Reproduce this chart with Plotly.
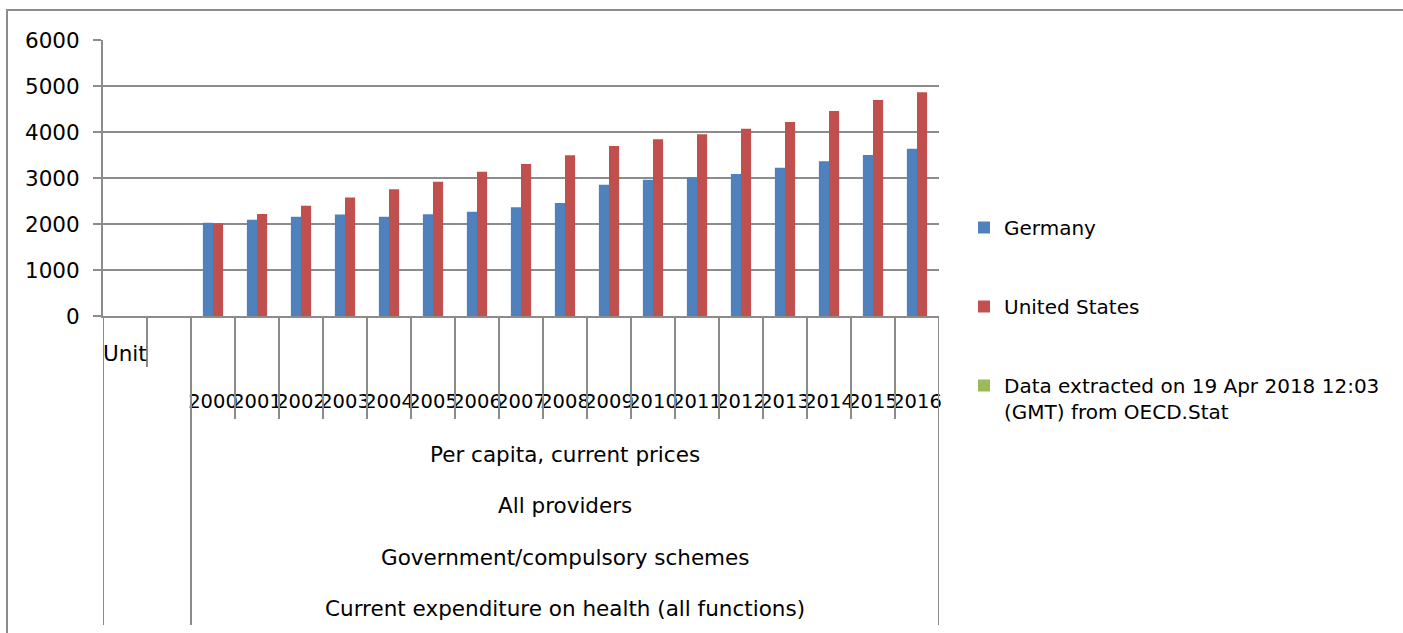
import plotly.graph_objects as go

# ---------------- data ----------------
categories = ["Unit", "(blank)", "2000", "2001", "2002", "2003", "2004", "2005", "2006",
              "2007", "2008", "2009", "2010", "2011", "2012", "2013", "2014", "2015", "2016"]
year_labels = ["2000", "2001", "2002", "2003", "2004", "2005", "2006", "2007", "2008",
               "2009", "2010", "2011", "2012", "2013", "2014", "2015", "2016"]
germany = [None, None, 2028, 2094, 2159, 2205, 2155, 2210, 2268,
           2362, 2457, 2855, 2964, 3015, 3087, 3225, 3362, 3500, 3638]
united_states = [None, None, 2015, 2217, 2399, 2575, 2757, 2920, 3138,
                 3304, 3493, 3696, 3841, 3949, 4073, 4217, 4457, 4696, 4863]
series_names = ["Germany", "United States",
                "Data extracted on 19 Apr 2018 12:03<br>(GMT) from OECD.Stat"]
level_labels = ["Per capita, current prices", "All providers",
                "Government/compulsory schemes",
                "Current expenditure on health (all functions)"]
unit_label = "Unit"
y_ticks = [0, 1000, 2000, 3000, 4000, 5000, 6000]

# ---------------- layout geometry (pixels) ----------------
W, H = 1403, 633
PL, PR, PT, PB = 103, 939, 40, 316
FONT = "DejaVu Sans"
FS = 21.5
GRID = "#8c8c8c"
BLUE, RED, GREEN = "#4F81BD", "#C0504D", "#9BBB59"


def px_x(px):
    return (px - PL) / (PR - PL)


def px_y(py):
    return (PB - py) / (PB - PT)


bar_w = 0.23

fig = go.Figure()
fig.add_trace(go.Bar(x=categories, y=germany, name=series_names[0], marker_color=BLUE,
                     marker_line_width=0, width=bar_w, offset=-bar_w, legendgroup="g1"))
fig.add_trace(go.Bar(x=categories, y=united_states, name=series_names[1], marker_color=RED,
                     marker_line_width=0, width=bar_w, offset=0, legendgroup="g2"))
fig.add_trace(go.Bar(x=[categories[0]], y=[None], name=series_names[2], marker_color=GREEN,
                     marker_line_width=0, legendgroup="g3", showlegend=True))

shapes = []
# outer chart frame
shapes.append(dict(type="rect", xref="paper", yref="paper",
                   x0=px_x(7), x1=px_x(1412), y0=px_y(10), y1=px_y(645),
                   line=dict(color=GRID, width=2), layer="below"))
# category separators
n = len(categories)
for b in range(n + 1):
    xb = b - 0.5
    if b in (0, 2, n):
        yend = px_y(625)
    elif b == 1:
        yend = px_y(367)
    else:
        yend = px_y(419)
    shapes.append(dict(type="line", xref="x", yref="paper", x0=xb, x1=xb,
                       y0=0, y1=yend, line=dict(color=GRID, width=2)))

annotations = []
annotations.append(dict(text=unit_label, xref="x", yref="paper", x=-0.5, y=px_y(353),
                        xanchor="left", yanchor="middle", showarrow=False, xshift=-2,
                        font=dict(family=FONT, size=FS, color="black")))
center_x = (categories.index(year_labels[0]) + categories.index(year_labels[-1])) / 2
for i, lab in enumerate(level_labels):
    annotations.append(dict(text=lab, xref="x", yref="paper", x=center_x,
                            y=px_y(454 + 51.5 * i), xanchor="center", yanchor="middle",
                            showarrow=False,
                            font=dict(family=FONT, size=FS, color="black")))

fig.update_layout(
    width=W, height=H,
    margin=dict(l=PL, r=W - PR, t=PT, b=H - PB, pad=0, autoexpand=False),
    paper_bgcolor="white", plot_bgcolor="white",
    barmode="overlay",
    font=dict(family=FONT, size=FS, color="black"),
    showlegend=True,
    legend=dict(x=px_x(964), y=px_y(208), xanchor="left", yanchor="top",
                tracegroupgap=50, valign="top", traceorder="grouped",
                font=dict(family=FONT, size=20, color="black"),
                bgcolor="rgba(0,0,0,0)"),
    shapes=shapes,
    annotations=annotations,
)
fig.update_xaxes(type="category", categoryorder="array", categoryarray=categories,
                 range=[-0.5, n - 0.5], showgrid=False, showline=True,
                 linecolor=GRID, linewidth=2, ticks="", automargin=False,
                 tickmode="array", tickvals=year_labels, ticktext=year_labels,
                 tickangle=0, ticklabelstandoff=67,
                 tickfont=dict(family=FONT, size=19.5, color="black"))
fig.update_yaxes(range=[0, 6000], tickmode="array", tickvals=y_ticks,
                 showgrid=True, gridcolor=GRID, gridwidth=2, automargin=False,
                 showline=True, linecolor=GRID, linewidth=2,
                 ticks="outside", ticklen=8, tickcolor=GRID, tickwidth=2,
                 zeroline=False, ticklabelstandoff=9,
                 tickfont=dict(family=FONT, size=FS, color="black"))

fig.write_html("out.html")
